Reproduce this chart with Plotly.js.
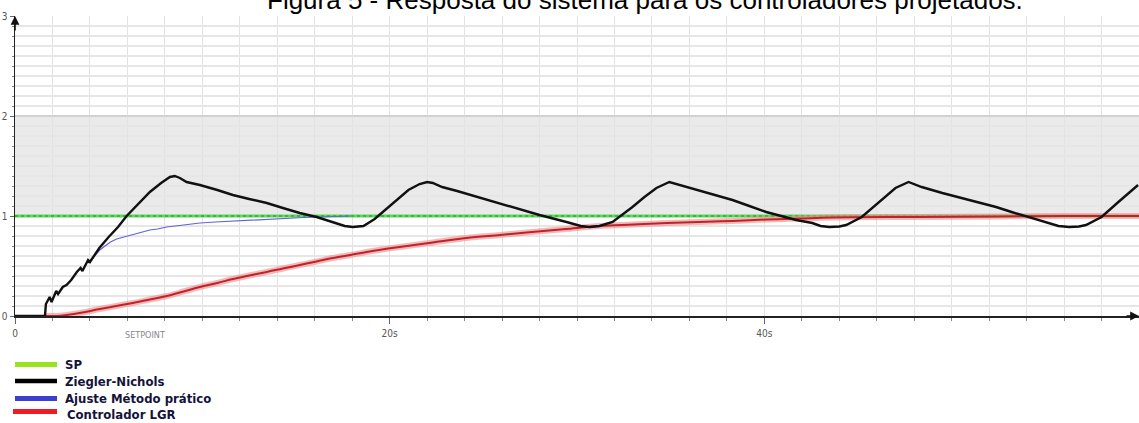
<!DOCTYPE html>
<html>
<head>
<meta charset="utf-8">
<script src="https://cdn.plot.ly/plotly-3.0.1.min.js"></script>
<style>html,body{margin:0;padding:0;background:#fff;}#chart{width:1139px;height:423px;}</style>
</head>
<body>
<div id="chart"></div>
<script>
// ---- data (time in s, response in units) ----
const xTickVals = [0, 20, 40];
const xTickText = ['0', '20s', '40s'];
const yTickVals = [0, 1, 2, 3];
const yTickText = ['0', '1', '2', '3'];

const spTime = [0, 60];
const spValue = [1, 1];

const znTime = [
  0, 1.6, 1.65, 1.85, 1.95, 2.2, 2.3, 2.55, 2.75, 3.0,
  3.3, 3.5, 3.6, 3.8, 3.9, 4.0, 4.5, 5.0, 5.5, 5.96,
  6.6, 7.2, 7.8, 8.27, 8.53, 8.8, 9.16, 9.87, 10.8, 11.63,
  12.5, 13.44, 14.3, 15.2, 16.1, 16.96, 17.6, 18.03, 18.6, 19.2,
  19.8, 20.4, 21.0, 21.6, 22.0, 22.3, 22.8, 23.6, 24.7, 25.87,
  27.0, 28.0, 29.44, 30.2, 30.67, 31.2, 31.9, 32.4, 32.96, 33.6,
  34.24, 34.93, 35.3, 36.0, 37.2, 38.3, 39.2, 40.1, 41.7, 42.56,
  43.0, 43.47, 44.0, 44.37, 45.2, 46.1, 47.0, 47.7, 48.0, 48.4,
  49.5, 50.56, 51.5, 52.37, 53.2, 54.1, 55.0, 55.7, 56.27, 56.8,
  57.17, 58.0, 58.9, 59.95
];
const znValue = [
  0, 0, 0.12, 0.19, 0.14, 0.25, 0.22, 0.29, 0.31, 0.36,
  0.44, 0.48, 0.45, 0.53, 0.56, 0.54, 0.68, 0.79, 0.89, 1.0,
  1.12, 1.24, 1.33, 1.39, 1.40, 1.38, 1.34, 1.31, 1.26, 1.21,
  1.17, 1.13, 1.08, 1.03, 0.99, 0.94, 0.90, 0.89, 0.90, 0.97,
  1.07, 1.17, 1.26, 1.32, 1.34, 1.33, 1.29, 1.25, 1.19, 1.13,
  1.07, 1.01, 0.94, 0.90, 0.89, 0.90, 0.94, 1.01, 1.09, 1.19,
  1.28, 1.34, 1.32, 1.28, 1.22, 1.16, 1.10, 1.04, 0.96, 0.93,
  0.90, 0.89, 0.895, 0.91, 0.99, 1.14, 1.28, 1.34, 1.32, 1.29,
  1.23, 1.18, 1.13, 1.09, 1.04, 0.99, 0.94, 0.90, 0.89, 0.895,
  0.91, 0.99, 1.14, 1.31
];

const ajusteTime = [
  3.9, 4.1, 4.3, 4.53, 4.8, 5.1, 5.42, 5.8, 6.29, 6.7,
  7.2, 7.6, 8.1, 9.0, 9.87, 10.7, 11.6, 12.5, 13.4, 14.5,
  15.4, 16.3, 17.9
];
const ajusteValue = [
  0.53, 0.57, 0.62, 0.66, 0.70, 0.74, 0.77, 0.79, 0.81, 0.83,
  0.86, 0.87, 0.89, 0.91, 0.93, 0.94, 0.95, 0.96, 0.97, 0.98,
  0.985, 0.99, 1.0
];

const lgrTime = [
  1.6, 2.2, 2.76, 3.6, 4.53, 5.4, 6.29, 7.2, 8.1, 9.0,
  9.87, 10.8, 11.63, 12.5, 13.44, 14.3, 15.2, 16.1, 16.96, 17.9,
  18.77, 19.6, 20.53, 22.3, 24.1, 25.9, 27.6, 29.4, 31.2, 33.0,
  34.8, 36.5, 38.3, 40.1, 41.9, 43.6, 48.3, 52.5, 56.0, 60
];
const lgrValue = [
  0, 0.0, 0.01, 0.035, 0.07, 0.10, 0.13, 0.165, 0.20, 0.245,
  0.29, 0.33, 0.37, 0.405, 0.44, 0.475, 0.51, 0.545, 0.58, 0.61,
  0.64, 0.665, 0.69, 0.735, 0.78, 0.81, 0.84, 0.87, 0.90, 0.915,
  0.93, 0.94, 0.95, 0.965, 0.975, 0.985, 0.99, 0.995, 1.0, 1.0
];

const legendNames = ['SP', 'Ziegler-Nichols', 'Ajuste Método prático', 'Controlador LGR'];
const legendColors = ['#9be31f', '#000000', '#3b3fcf', '#ee1c24'];
const titleText = 'Figura 5 - Resposta do sistema para os controladores projetados.';

// ---- drawing ----
const W = 1139, H = 423;
const M = {l: 15, r: 0, t: 16, b: 107};
const pw = W - M.l - M.r, ph = H - M.t - M.b;
const px = p => (p - M.l) / pw;          // pixel -> paper x
const py = p => (H - M.b - p) / ph;      // pixel -> paper y

const narrow = '"Liberation Sans Narrow", "Arial Narrow", "DejaVu Sans Condensed", sans-serif';

const traces = [
  {x: spTime, y: spValue, mode: 'lines', line: {color: '#5cd85c', width: 3.2}, hoverinfo: 'skip'},
  {x: spTime, y: spValue, mode: 'lines', line: {color: '#2a8a2a', width: 1.2, dash: '3px,3px'}, hoverinfo: 'skip'},
  {x: lgrTime, y: lgrValue, mode: 'lines', line: {color: 'rgba(236,140,140,0.6)', width: 6, shape: 'spline'}, hoverinfo: 'skip'},
  {x: lgrTime, y: lgrValue, mode: 'lines', line: {color: '#c0222a', width: 2, shape: 'spline'}, name: legendNames[3]},
  {x: ajusteTime, y: ajusteValue, mode: 'lines', line: {color: '#6262d6', width: 1.2}, name: legendNames[2]},
  {x: znTime, y: znValue, mode: 'lines', line: {color: '#111', width: 2.4}, name: legendNames[1]}
];

const shapes = [
  {type: 'rect', xref: 'x', yref: 'y', x0: 0, x1: 60, y0: 1, y1: 2,
   fillcolor: '#eaeaea', line: {width: 0}, layer: 'below'}
];
const legendY = [364.5, 381, 398.5, 411.5];
const legendThick = [5, 4.5, 5, 5];
const annotations = [
  {text: titleText, xref: 'paper', yref: 'paper', x: px(645), y: py(17), xanchor: 'center', yanchor: 'bottom',
   showarrow: false, font: {family: '"Liberation Sans", Arial, sans-serif', size: 26, color: '#000'}},
  {text: 'SETPOINT', xref: 'paper', yref: 'paper', x: px(145), y: py(335), xanchor: 'center', yanchor: 'middle',
   showarrow: false, font: {family: narrow, size: 9, color: '#888'}},
  {text: '', xref: 'x', yref: 'y', x: 0, y: 3, ax: 0, ay: 16, showarrow: true, arrowhead: 2,
   arrowsize: 1.1, arrowwidth: 1.6, arrowcolor: '#111'},
  {text: '', xref: 'x', yref: 'y', x: 60, y: 0, ax: -14, ay: 0, showarrow: true, arrowhead: 2,
   arrowsize: 1.1, arrowwidth: 1.6, arrowcolor: '#111'}
];
legendNames.forEach((n, i) => {
  shapes.push({type: 'line', xref: 'paper', yref: 'paper', x0: px(i === 3 ? 13 : 15), x1: px(57),
    y0: py(legendY[i]), y1: py(legendY[i]), line: {color: legendColors[i], width: legendThick[i]}});
  annotations.push({text: '<b>' + n + '</b>', xref: 'paper', yref: 'paper',
    x: px(i === 3 ? 65 : 63), y: py(legendY[i] + (i === 3 ? 2.5 : 0)), xanchor: 'left', yanchor: 'middle',
    showarrow: false, font: {family: narrow, size: 13, color: '#14143a'}});
});

const layout = {
  width: W, height: H, margin: M, showlegend: false,
  paper_bgcolor: '#fff', plot_bgcolor: '#fff',
  xaxis: {range: [0, 60], tickmode: 'array', tickvals: xTickVals, ticktext: xTickText,
    ticks: 'outside', ticklen: 6, tickcolor: '#666', tickwidth: 1,
    showgrid: true, gridcolor: '#e2e2e2', gridwidth: 1,
    minor: {dtick: 2, showgrid: true, gridcolor: '#e2e2e2', ticks: 'outside', ticklen: 3, tickcolor: '#888'},
    showline: true, linecolor: '#222', linewidth: 1.5, zeroline: false,
    ticklabelstandoff: 1,
    tickfont: {family: narrow, size: 10, color: '#555'}, fixedrange: true},
  yaxis: {range: [0, 3], tickmode: 'array', tickvals: yTickVals, ticktext: yTickText,
    ticks: 'outside', ticklen: 4, tickcolor: '#666',
    showgrid: true, gridcolor: '#d2d2d2', gridwidth: 1.5,
    minor: {dtick: 0.1, showgrid: true, gridcolor: '#e6e6e6', ticks: 'outside', ticklen: 2, tickcolor: '#888'},
    showline: true, linecolor: '#222', linewidth: 1.5, zeroline: false,
    tickfont: {family: narrow, size: 10, color: '#555'}, fixedrange: true},
  shapes: shapes, annotations: annotations
};

Plotly.newPlot('chart', traces, layout, {displayModeBar: false, staticPlot: true});
</script>
</body>
</html>
